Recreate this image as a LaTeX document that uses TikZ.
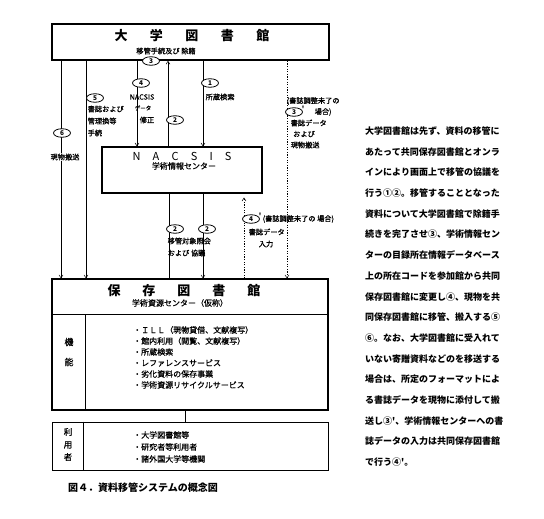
\documentclass[tikz,border=0pt]{standalone}
\usepackage{fontspec}
\newfontfamily\jp{Noto Sans CJK JP}
\newfontfamily\jpm[FakeBold=0.8]{Noto Sans CJK JP}
\usetikzlibrary{arrows.meta,shapes.geometric}
\XeTeXlinebreaklocale "ja"
\XeTeXlinebreakskip=0pt plus 1fil
\tikzset{
  box/.style={draw, rectangle, inner sep=0pt},
  arr/.style={line width=0.5pt, -{Straight Barb[length=3pt,width=4pt]}},
  ln/.style={line width=0.5pt},
  dot/.style={line width=0.5pt, dash pattern=on 1.2pt off 1.4pt},
  cnum/.style={draw, ellipse, line width=0.8pt, inner sep=0pt, minimum width=17pt, minimum height=8.5pt, fill=white, font=\jp\fontsize{6.5}{6.5}\selectfont\bfseries},
  lbl/.style={inner sep=0.5pt, font=\jpm\fontsize{7.2}{7.2}\selectfont},
  itm/.style={inner sep=0pt, anchor=west, font=\jpm\fontsize{8}{8}\selectfont},
  ttl/.style={inner sep=0pt, font=\jp\fontsize{13}{13}\selectfont\bfseries},
  para/.style={inner sep=0pt, anchor=west, font=\jp\fontsize{9}{9}\selectfont\bfseries},
}
\begin{document}
\begin{tikzpicture}[x=1pt,y=-1pt]
\useasboundingbox (0,0) rectangle (544,519);
% boxes
\node[box, line width=1.6pt, minimum width=277pt, minimum height=36pt] (univ) at (190.5,42) {};
\node[box, line width=1.2pt, minimum width=160pt, minimum height=46pt] (nacsis) at (182,170) {};
\node[box, line width=1.3pt, minimum width=276pt, minimum height=131pt] (hozon) at (190,344.5) {};
\node[box, line width=0.8pt, minimum width=276pt, minimum height=48pt] (users) at (190,446) {};
% dividers
\coordinate (dy) at (0,314);
\coordinate (dx) at (85,0);
\coordinate (ux) at (83,0);
\draw[line width=0.8pt] (hozon.west |- dy) -- (hozon.east |- dy);
\draw[line width=0.8pt] (dx |- dy) -- (dx |- hozon.south);
\draw[line width=0.8pt] (ux |- users.north) -- (ux |- users.south);
% titles
\node[ttl] (univt) at (192,36) {\makebox[155pt]{大\hfill 学\hfill 図\hfill 書\hfill 館}};
\node[lbl] (univs) at (166,51) {移管手続及び\ 除籍};
\node[inner sep=0pt, font=\jp\fontsize{11}{11}\selectfont] (nact) at (182,156) {\makebox[99pt]{N\hfill A\hfill C\hfill S\hfill I\hfill S}};
\node[lbl, font=\jpm\fontsize{8}{8}\selectfont] (nacs) at (184,166) {学術情報センター};
\node[ttl] (hozt) at (184,291) {\makebox[153pt]{保\hfill 存\hfill 図\hfill 書\hfill 館}};
\node[lbl, font=\jpm\fontsize{8}{8}\selectfont] (hozs) at (180,303) {学術資源センター（仮称）};
% side labels
\node[lbl, font=\jpm\fontsize{9}{9}\selectfont] (ki) at (69,342) {機};
\node[lbl, font=\jpm\fontsize{9}{9}\selectfont] (no) at (69,362) {能};
\node[lbl, font=\jpm\fontsize{8.5}{8.5}\selectfont] (ri) at (68,432) {利};
\node[lbl, font=\jpm\fontsize{8.5}{8.5}\selectfont] (yo) at (68,445) {用};
\node[lbl, font=\jpm\fontsize{8.5}{8.5}\selectfont] (sha) at (68,457) {者};
% items
\node[itm] (i1) at (133,330) {・ＩＬＬ（現物貸借、文献複写）};
\node[itm] (i2) at (133,341) {・館内利用（閲覧、文献複写）};
\node[itm] (i3) at (133,352) {・所蔵検索};
\node[itm] (i4) at (133,363) {・レファレンスサービス};
\node[itm] (i5) at (133,374) {・劣化資料の保存事業};
\node[itm] (i6) at (133,385) {・学術資源リサイクルサービス};
\node[itm] (u1) at (133,435) {・大学図書館等};
\node[itm] (u2) at (133,447) {・研究者等利用者};
\node[itm] (u3) at (133,459) {・諸外国大学等機関};
% connector x positions
\coordinate (x6) at (61,0);
\coordinate (x5) at (86,0);
\coordinate (x4) at (137,0);
\coordinate (x2) at (168,0);
\coordinate (x1) at (203,0);
\coordinate (x3d) at (287,0);
\coordinate (xl) at (169,0);
\coordinate (xr) at (203,0);
\coordinate (x4d) at (244,0);
\coordinate (xu) at (185,0);
% connectors
\draw[arr] (univ.south -| x6) -- (hozon.north -| x6);
\draw[arr] (univ.south -| x5) -- (hozon.north -| x5);
\draw[arr] (univ.south -| x4) -- (nacsis.north -| x4);
\draw[arr] (nacsis.north -| x2) -- (univ.south -| x2);
\draw[arr] (univ.south -| x1) -- (nacsis.north -| x1);
\draw[dot, -{Straight Barb[length=3pt,width=4pt]}] (univ.south -| x3d) -- (hozon.north -| x3d);
\draw[ln] (nacsis.south -| xl) -- (hozon.north -| xl);
\draw[arr] (nacsis.south -| xr) -- (hozon.north -| xr);
\draw[dot, -{Straight Barb[length=3pt,width=4pt]}] (hozon.north -| x4d) -- ([yshift=-4pt]nacsis.south -| x4d);
\draw[ln] (hozon.south -| xu) -- (users.north -| xu);
% labels on connectors
\node[cnum] (c3) at (151,61) {3};
\node[cnum] (c6) at (62,133) {6};
\node[lbl, fill=white] (t6) at (65,157) {現物搬送};
\node[cnum] (c5) at (95,98) {5};
\node[lbl, anchor=west] (t5a) at (87,109) {書誌および};
\node[lbl, anchor=west] (t5b) at (87,121) {管理換等};
\node[lbl, anchor=west] (t5c) at (87,133) {手続};
\node[cnum] (c4) at (141,83) {4};
\node[lbl] (t4a) at (142,97) {NACSIS};
\node[lbl, font=\jpm\fontsize{5.5}{5.5}\selectfont] (t4b) at (143,108) {データ};
\node[lbl] (t4c) at (147,120) {修正};
\node[cnum] (c2u) at (175,120) {2};
\node[cnum] (c1) at (210,83) {1};
\node[lbl, anchor=west] (t1) at (205,97) {所蔵検索};
\node[lbl, anchor=west] (t3a) at (286,101) {(書誌調整未了の};
\node[cnum] (c3d) at (294,112) {3};
\node[inner sep=0pt, font=\jp\fontsize{7}{7}\selectfont\bfseries] (p3) at (303,108.5) {'};
\node[lbl, anchor=west] (t3b) at (314,112) {場合)};
\node[lbl, anchor=west] (t3c) at (290,123) {書誌データ};
\node[lbl] (t3d) at (304,134) {および};
\node[lbl, anchor=west] (t3e) at (290,145) {現物搬送};
\node[cnum] (c2a) at (175,229) {2};
\node[cnum] (c2b) at (207,229) {2};
\node[lbl, anchor=west] (t2a) at (167,241) {移管対象照会};
\node[lbl, anchor=west] (t2b) at (167,253) {および\ 協議};
\node[cnum] (c4d) at (251,219) {4};
\node[inner sep=0pt, font=\jp\fontsize{7}{7}\selectfont\bfseries] (p4) at (260,215.5) {'};
\node[lbl, anchor=west] (t4da) at (262,219) {(書誌調整未了の\ 場合)};
\node[lbl, anchor=west] (t4db) at (248,232) {書誌データ};
\node[lbl] (t4dc) at (266,244) {入力};
% caption
\node[inner sep=0pt, anchor=west, font=\jp\fontsize{10}{10}\selectfont\bfseries] (cap) at (68,488) {図４．資料移管システムの概念図};
% paragraph
\node[para] (p01) at (365,131.0) {\makebox[140pt][s]{大学図書館は先ず、資料の移管に}};
\node[para] (p02) at (365,151.7) {\makebox[140pt][s]{あたって共同保存図書館とオンラ}};
\node[para] (p03) at (365,172.4) {\makebox[140pt][s]{インにより画面上で移管の協議を}};
\node[para] (p04) at (365,193.1) {\makebox[140pt][s]{行う①②。移管することとなった}};
\node[para] (p05) at (365,213.8) {\makebox[140pt][s]{資料について大学図書館で除籍手}};
\node[para] (p06) at (365,234.5) {\makebox[140pt][s]{続きを完了させ③、学術情報セン}};
\node[para] (p07) at (365,255.2) {\makebox[140pt][s]{ターの目録所在情報データベース}};
\node[para] (p08) at (365,275.9) {\makebox[140pt][s]{上の所在コードを参加館から共同}};
\node[para] (p09) at (365,296.6) {\makebox[140pt][s]{保存図書館に変更し④、現物を共}};
\node[para] (p10) at (365,317.3) {\makebox[140pt][s]{同保存図書館に移管、搬入する⑤}};
\node[para] (p11) at (365,338.0) {\makebox[140pt][s]{⑥。なお、大学図書館に受入れて}};
\node[para] (p12) at (365,358.7) {\makebox[140pt][s]{いない寄贈資料などのを移送する}};
\node[para] (p13) at (365,379.4) {\makebox[140pt][s]{場合は、所定のフォーマットによ}};
\node[para] (p14) at (365,400.1) {\makebox[140pt][s]{る書誌データを現物に添付して搬}};
\node[para] (p15) at (365,420.8) {\makebox[140pt][s]{送し③'、学術情報センターへの書}};
\node[para] (p16) at (365,441.5) {\makebox[140pt][s]{誌データの入力は共同保存図書館}};
\node[para] (p17) at (365,462.2) {で行う④'。};
\end{tikzpicture}
\end{document}
